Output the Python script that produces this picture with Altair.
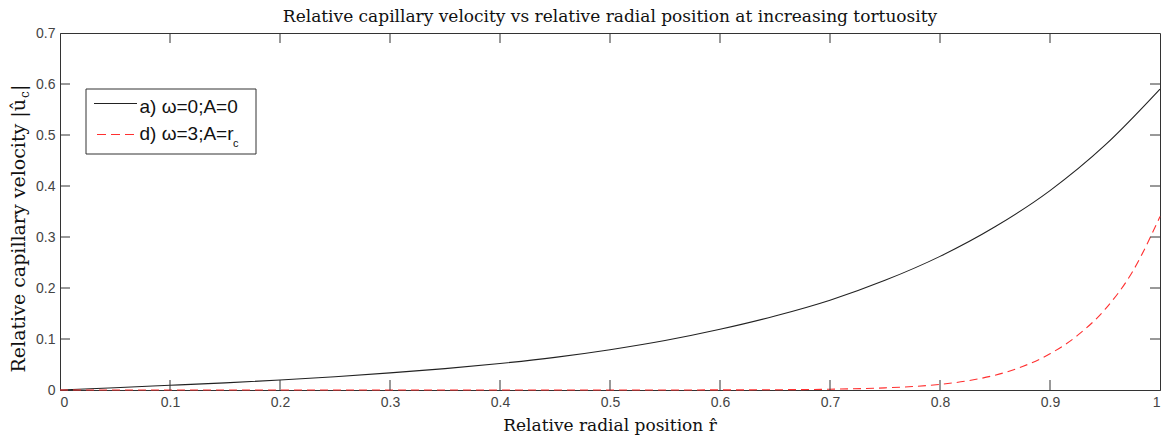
import altair as alt
import pandas as pd

# Relative radial position (x) and relative capillary velocity (y) for the two cases
r_hat_a = [0.0, 0.05, 0.1, 0.15, 0.2, 0.25, 0.3, 0.35, 0.4, 0.45, 0.5,
           0.55, 0.6, 0.65, 0.7, 0.75, 0.8, 0.85, 0.9, 0.95, 1.0]
vel_a = [0.0, 0.0045, 0.0092, 0.014, 0.0195, 0.026, 0.0335, 0.042, 0.052, 0.064, 0.079,
         0.097, 0.119, 0.145, 0.176, 0.215, 0.262, 0.320, 0.391, 0.480, 0.590]

r_hat_d = [0.0, 0.1, 0.2, 0.3, 0.4, 0.5, 0.6, 0.65, 0.7, 0.75, 0.775, 0.8,
           0.825, 0.85, 0.875, 0.9, 0.925, 0.95, 0.975, 1.0]
vel_d = [0.0, 0.0, 0.0, 0.0, 0.0, 0.0, 0.0002, 0.0005, 0.0015, 0.0042, 0.0068, 0.011,
         0.018, 0.029, 0.046, 0.071, 0.107, 0.158, 0.232, 0.340]

x_ticks = [0.1, 0.2, 0.3, 0.4, 0.5, 0.6, 0.7, 0.8, 0.9]
y_ticks = [0.1, 0.2, 0.3, 0.4, 0.5, 0.6]
x_labels = [0, 0.1, 0.2, 0.3, 0.4, 0.5, 0.6, 0.7, 0.8, 0.9, 1]
y_labels = [0, 0.1, 0.2, 0.3, 0.4, 0.5, 0.6, 0.7]

title_text = "Relative capillary velocity vs relative radial position at increasing tortuosity"
x_title = "Relative radial position r\u0302"
y_title_main = "Relative capillary velocity |u\u0302"
legend_a = "a) \u03c9=0;A=0"
legend_d = "d) \u03c9=3;A=r"

W, H = 1100, 357
SERIF = "DejaVu Serif"
SANS = "Liberation Sans"
INK = "#333333"
TXT = "#111111"
RED = "#ff3030"

xs = alt.Scale(domain=[0, 1], nice=False, zero=False)
ys = alt.Scale(domain=[0, 0.7], nice=False, zero=False)
ax_x = alt.Axis(values=x_labels, format="~g", title=None)
ax_y = alt.Axis(values=y_labels, format="~g", title=None)


def X(field):
    return alt.X(field, scale=xs, axis=ax_x)


def Y(field):
    return alt.Y(field, scale=ys, axis=ax_y)


df_a = pd.DataFrame({"r": r_hat_a, "v": vel_a})
df_d = pd.DataFrame({"r": r_hat_d, "v": vel_d})
one = pd.DataFrame({"k": [0]})

line_a = alt.Chart(df_a).mark_line(color="#222222", strokeWidth=1.1, interpolate="monotone").encode(
    x=X("r:Q"), y=Y("v:Q"))
line_d = alt.Chart(df_d).mark_line(color=RED, strokeWidth=1.1, strokeDash=[8, 5],
                                   interpolate="monotone").encode(
    x=X("r:Q"), y=Y("v:Q"))

# Inward-pointing ticks on all four sides of the box
dxt = pd.DataFrame({"r": x_ticks})
dyt = pd.DataFrame({"v": y_ticks})
tick_style = dict(color=INK, strokeWidth=1)
bottom_ticks = alt.Chart(dxt).mark_rule(**tick_style).encode(
    x=X("r:Q"), y=alt.value(H - 10), y2=alt.value(H))
top_ticks = alt.Chart(dxt).mark_rule(**tick_style).encode(
    x=X("r:Q"), y=alt.value(0), y2=alt.value(10))
left_ticks = alt.Chart(dyt).mark_rule(**tick_style).encode(
    y=Y("v:Q"), x=alt.value(0), x2=alt.value(10))
right_ticks = alt.Chart(dyt).mark_rule(**tick_style).encode(
    y=Y("v:Q"), x=alt.value(W - 10), x2=alt.value(W))

# Titles
title = alt.Chart(one).mark_text(text=title_text, font=SERIF, fontSize=17, color=TXT,
                                 align="center", baseline="alphabetic").encode(
    x=alt.value(W / 2), y=alt.value(-11))
xlab = alt.Chart(one).mark_text(text=x_title, font=SERIF, fontSize=17, color=TXT,
                                align="center", baseline="alphabetic").encode(
    x=alt.value(W / 2), y=alt.value(398))
ylab = alt.Chart(one).mark_text(text=y_title_main, font=SERIF, fontSize=19, color=TXT,
                                angle=270, align="right", baseline="alphabetic").encode(
    x=alt.value(-35), y=alt.value(66))
ylab_sub = alt.Chart(one).mark_text(text="c", font=SERIF, fontSize=12, color=TXT,
                                    angle=270, align="left", baseline="alphabetic").encode(
    x=alt.value(-31), y=alt.value(65))
ylab_bar = alt.Chart(one).mark_text(text="|", font=SERIF, fontSize=19, color=TXT,
                                    angle=270, align="left", baseline="alphabetic").encode(
    x=alt.value(-35), y=alt.value(58))

# Legend box
leg_box = alt.Chart(one).mark_rect(fill="white", stroke=INK, strokeWidth=1).encode(
    x=alt.value(26), x2=alt.value(196), y=alt.value(56), y2=alt.value(121))
leg_line_a = alt.Chart(one).mark_rule(color="#222222", strokeWidth=1.1).encode(
    x=alt.value(34), x2=alt.value(77), y=alt.value(70.5))
leg_line_d = alt.Chart(one).mark_rule(color=RED, strokeWidth=1.1, strokeDash=[9, 5]).encode(
    x=alt.value(37), x2=alt.value(77), y=alt.value(101.5))
leg_text_a = alt.Chart(one).mark_text(text=legend_a, font=SANS, fontSize=19, color=TXT,
                                      align="left", baseline="alphabetic").encode(
    x=alt.value(79.5), y=alt.value(80))
leg_text_d = alt.Chart(one).mark_text(text=legend_d, font=SANS, fontSize=19, color=TXT,
                                      align="left", baseline="alphabetic").encode(
    x=alt.value(79.5), y=alt.value(107))
leg_sub = alt.Chart(one).mark_text(text="c", font=SANS, fontSize=11, color=TXT,
                                   align="left", baseline="alphabetic").encode(
    x=alt.value(173), y=alt.value(114))

chart = alt.layer(
    line_a, line_d,
    bottom_ticks, top_ticks, left_ticks, right_ticks,
    leg_box, leg_line_a, leg_line_d, leg_text_a, leg_text_d, leg_sub,
    title, xlab, ylab, ylab_sub, ylab_bar,
).properties(
    width=W, height=H,
    autosize=alt.AutoSizeParams(type="none"),
    padding={"left": 60, "top": 33, "right": 3, "bottom": 49},
    background="white",
).configure_view(
    stroke=INK, strokeWidth=1,
).configure_axis(
    grid=False, ticks=False, domainColor=INK, domainWidth=1,
    labelFont=SANS, labelFontSize=14, labelColor="#444444", labelPadding=5,
)

chart.save("out.html", embed_options={"renderer": "svg", "actions": False})
